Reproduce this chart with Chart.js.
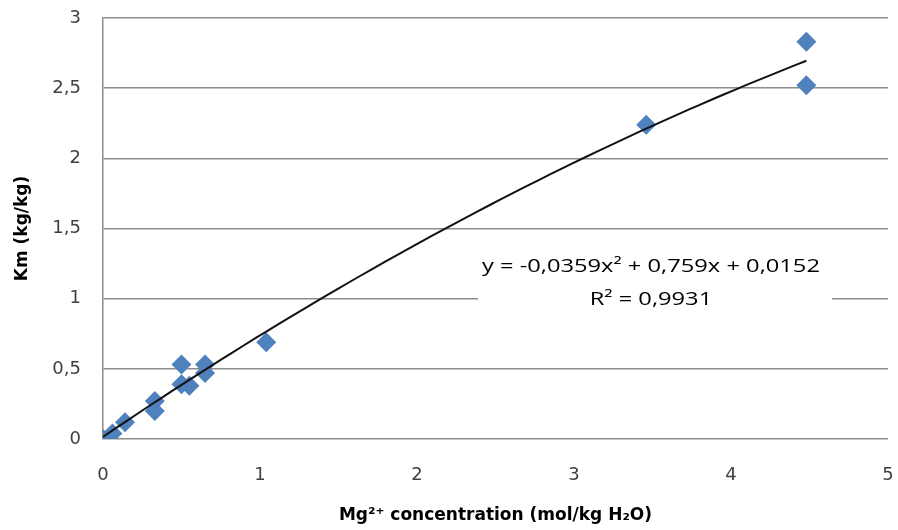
<!DOCTYPE html>
<html>
<head>
<meta charset="utf-8">
<script src="https://cdn.jsdelivr.net/npm/chart.js@4/dist/chart.umd.min.js"></script>
<style>
  html, body { margin: 0; padding: 0; background: #fff; }
  #wrap { width: 898px; height: 530px; }
</style>
</head>
<body>
<div id="wrap"><canvas id="chart" width="898" height="530"></canvas></div>
<script>
// Mg2+ concentration (mol/kg H2O) vs Km (kg/kg)
const concX = [0, 0.06, 0.14, 0.33, 0.33, 0.5, 0.5, 0.55, 0.65, 0.65, 1.04, 3.46, 4.48, 4.48];
const kmY = [0, 0.04, 0.12, 0.27, 0.2, 0.53, 0.39, 0.38, 0.53, 0.47, 0.69, 2.24, 2.83, 2.52];

// polynomial trendline coefficients as printed on the chart (a x^2 + b x + c)
const trendCoef = [-0.0359, 0.759, 0.0152];
const trendLabel = ['y = -0,0359x² + 0,759x + 0,0152', 'R² = 0,9931'];

const xTicks = [0, 1, 2, 3, 4, 5];
const yTicks = [0, 0.5, 1, 1.5, 2, 2.5, 3];

const points = concX.map((x, i) => ({ x: x, y: kmY[i] }));

const xMax = Math.max(...concX);
const trend = [];
for (let i = 0; i <= 60; i++) {
    const x = xMax * i / 60;
    trend.push({ x: x, y: trendCoef[0] * x * x + trendCoef[1] * x + trendCoef[2] });
}

const fmt = v => String(v).replace('.', ',');
const FONT = '"DejaVu Sans", "Liberation Sans", sans-serif';

const labelPlugin = {
    id: 'trendLabel',
    beforeDatasetsDraw(chart) {
        const ctx = chart.ctx;
        const xs = chart.scales.x, ys = chart.scales.y;
        const cx = xs.getPixelForValue(3.49);
        const y1 = ys.getPixelForValue(1.23);
        const y2 = ys.getPixelForValue(0.99);
        ctx.save();
        ctx.fillStyle = '#fff';
        ctx.fillRect(478, y1 - 20, 354, y2 - y1 + 38);
        ctx.fillStyle = '#000';
        ctx.font = '18px "Open Sans", sans-serif';
        ctx.textAlign = 'center';
        ctx.textBaseline = 'middle';
        // widen the equation to the width it takes in the original
        const sx = 338 / ctx.measureText(trendLabel[0]).width;
        ctx.translate(cx, 0);
        ctx.scale(sx, 1);
        ctx.fillText(trendLabel[0], 0, y1);
        ctx.fillText(trendLabel[1], 0, y2);
        ctx.restore();
    }
};

const ctx = document.getElementById('chart').getContext('2d');
new Chart(ctx, {
    type: 'scatter',
    data: {
        datasets: [{
            label: 'Km',
            data: points,
            pointStyle: 'rectRot',
            pointRadius: 10,
            pointBackgroundColor: '#4F81BD',
            pointBorderWidth: 0,
            order: 2
        }, {
            label: 'Trend',
            type: 'line',
            data: trend,
            borderColor: '#111',
            borderWidth: 2,
            pointRadius: 0,
            fill: false,
            tension: 0,
            order: 1
        }]
    },
    options: {
        responsive: false,
        animation: false,
        layout: { padding: { top: 18, right: 0, left: 0, bottom: 0 } },
        plugins: {
            legend: { display: false },
            tooltip: { enabled: false }
        },
        scales: {
            x: {
                type: 'linear',
                min: 0,
                max: 5,
                afterBuildTicks: s => { s.ticks = xTicks.map(v => ({ value: v })); },
                afterFit: s => { s.height = 91; s.paddingLeft = 0; s.paddingRight = 0; },
                grid: { display: false, drawTicks: false },
                border: { display: false },
                ticks: {
                    padding: 26,
                    color: '#404040',
                    font: { family: FONT, size: 18 },
                    callback: v => fmt(v)
                },
                title: {
                    display: true,
                    text: 'Mg²⁺ concentration (mol/kg H₂O)',
                    color: '#000',
                    font: { family: FONT, size: 17, weight: 'bold' },
                    padding: { top: 12 }
                }
            },
            y: {
                type: 'linear',
                min: 0,
                max: 3,
                afterBuildTicks: s => { s.ticks = yTicks.map(v => ({ value: v })); },
                afterFit: s => { s.width = 103; s.paddingTop = 0; s.paddingBottom = 0; },
                grid: { color: '#8c8c8c', lineWidth: 1.5, drawTicks: false },
                border: { display: true, color: '#8c8c8c', width: 1.5 },
                ticks: {
                    padding: 22,
                    color: '#404040',
                    font: { family: FONT, size: 18 },
                    callback: v => fmt(v)
                },
                title: {
                    display: true,
                    text: 'Km (kg/kg)',
                    color: '#000',
                    font: { family: FONT, size: 17, weight: 'bold' },
                    padding: { top: 12, bottom: 4 }
                }
            }
        }
    },
    plugins: [labelPlugin]
});
</script>
</body>
</html>
